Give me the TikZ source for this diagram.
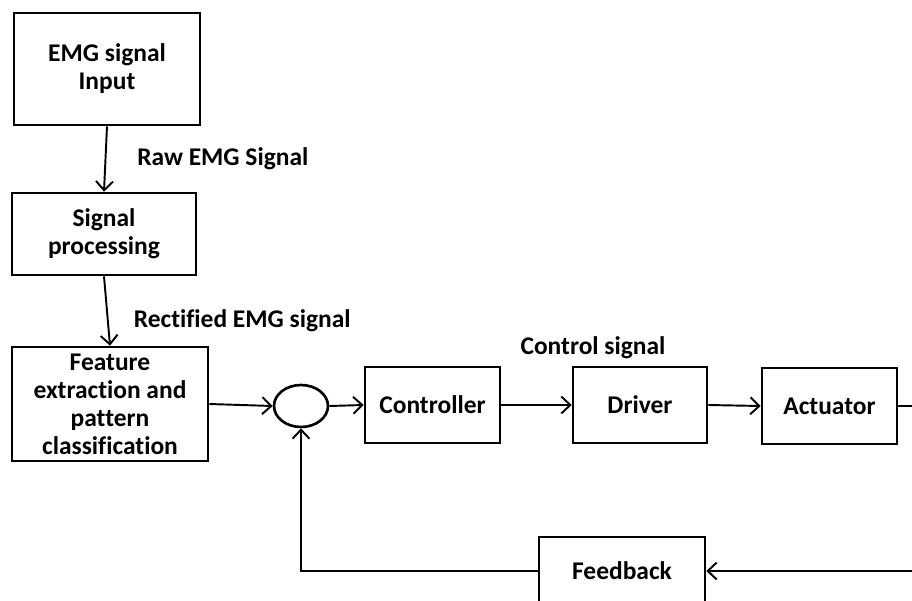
\documentclass[tikz,border=0pt]{standalone}
\usepackage{fontspec}
\setmainfont{Carlito}[Ligatures=NoCommon]
\usetikzlibrary{arrows.meta,shapes.geometric}
\begin{document}
\begin{tikzpicture}[
    x=0.02cm, y=-0.02cm,
    block/.style={rectangle, draw, line width=1.5pt, align=center, inner sep=2pt,
        font=\fontsize{14.5}{16}\selectfont\bfseries},
    lbl/.style={font=\fontsize{14.5}{16}\selectfont\bfseries},
    arrow/.style={-{Straight Barb[length=1.8mm,width=3.4mm]}, line width=1.1pt}
]
\clip (0,0) rectangle (912,601);

% Signal chain (left column)
\node[block, minimum width=3.72cm, minimum height=2.24cm] (emg) at (107,69) {EMG signal\\Input};
\node[block, minimum width=3.68cm, minimum height=1.64cm] (proc) at (104,234) {Signal\\processing};
\node[block, minimum width=3.92cm, minimum height=2.28cm] (feat) at (110,404) {Feature\\extraction and\\pattern\\classification};

% Forward path
\node[ellipse, draw, line width=1.5pt, minimum width=1.08cm, minimum height=0.84cm] (sum) at (301,406) {};
\node[block, minimum width=2.7cm, minimum height=1.52cm] (ctrl) at (432.5,405) {Controller};
\node[block, minimum width=2.68cm, minimum height=1.52cm] (drv) at (640,405) {Driver};
\node[block, minimum width=2.7cm, minimum height=1.52cm] (act) at (829.5,406) {Actuator};

% Feedback path
\node[block, minimum width=3.32cm, minimum height=1.36cm] (fb) at (622,571) {Feedback};
\node[lbl] (lblctrl) at (593,348) {Control signal};
\coordinate (actout) at (915,406);
\coordinate (fbin) at (915,571);

% Arrows
\draw[arrow] (emg.south) -- (proc.north) node[lbl, midway, right=0.5cm] {Raw EMG Signal};
\draw[arrow] (proc.south) -- (feat.north) node[lbl, midway, right=0.4cm, yshift=-0.2cm] {Rectified EMG signal};
\draw[arrow] (feat.east) -- (sum.west);
\draw[arrow] (sum.east) -- (ctrl.west);
\draw[arrow] (ctrl.east) -- (drv.west);
\draw[arrow] (drv.east) -- (act.west);
\draw[line width=1.1pt] (act.east) -- (actout);
\draw[arrow] (fbin) -- (fb.east);
\draw[arrow] (fb.west) -| (sum.south);

\end{tikzpicture}
\end{document}
